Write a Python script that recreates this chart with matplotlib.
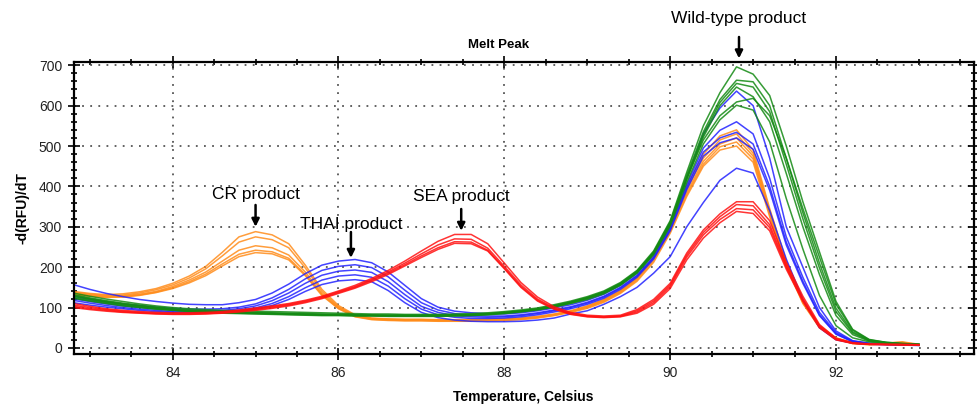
import matplotlib
matplotlib.use("Agg")
import matplotlib.pyplot as plt
from matplotlib.ticker import MultipleLocator

# temperatures (Celsius), one reading every 0.2 degrees
temps = [82.8, 83.0, 83.2, 83.4, 83.6, 83.8, 84.0, 84.2, 84.4, 84.6, 84.8, 85.0, 85.2,
         85.4, 85.6, 85.8, 86.0, 86.2, 86.4, 86.6, 86.8, 87.0, 87.2, 87.4, 87.6, 87.8,
         88.0, 88.2, 88.4, 88.6, 88.8, 89.0, 89.2, 89.4, 89.6, 89.8, 90.0, 90.2, 90.4,
         90.6, 90.8, 91.0, 91.2, 91.4, 91.6, 91.8, 92.0, 92.2, 92.4, 92.6, 92.8, 93.0]

# -d(RFU)/dT, CR samples (orange)
orange_runs = [
    [140, 135, 132, 134, 139, 147, 160, 178, 202, 237, 275, 288, 280,
     258, 205, 145, 105, 82, 74, 72, 71, 71, 70, 70, 70, 71,
     72, 74, 78, 84, 92, 104, 120, 142, 175, 225, 300, 400, 480,
     525, 540, 490, 345, 215, 118, 55, 25, 13, 10, 12, 14, 8],
    [138, 133, 130, 131, 136, 144, 156, 173, 196, 228, 262, 275, 268,
     248, 198, 140, 102, 80, 73, 71, 70, 70, 69, 69, 69, 70,
     71, 73, 77, 83, 91, 103, 119, 141, 173, 222, 295, 392, 470,
     515, 530, 482, 340, 212, 116, 54, 24, 12, 9, 11, 12, 7],
    [136, 131, 128, 129, 133, 140, 152, 168, 188, 215, 242, 253, 248,
     230, 188, 135, 100, 79, 72, 70, 69, 69, 68, 68, 68, 69,
     70, 72, 76, 82, 90, 101, 117, 139, 171, 220, 292, 385, 462,
     505, 520, 475, 335, 208, 114, 53, 23, 12, 9, 12, 15, 9],
    [134, 129, 126, 127, 131, 138, 149, 164, 183, 208, 232, 242, 238,
     222, 182, 132, 98, 78, 71, 69, 68, 68, 67, 67, 67, 68,
     69, 71, 75, 81, 89, 100, 115, 137, 168, 216, 288, 380, 455,
     498, 510, 468, 330, 205, 112, 52, 23, 11, 8, 10, 11, 6],
    [132, 128, 125, 126, 130, 137, 147, 161, 179, 203, 226, 236, 233,
     218, 179, 130, 97, 77, 70, 68, 67, 67, 66, 66, 66, 67,
     68, 70, 74, 80, 88, 98, 113, 135, 165, 212, 284, 375, 450,
     490, 500, 460, 325, 202, 110, 50, 22, 11, 8, 10, 13, 7],
]

# THAI samples (blue)
blue_runs = [
    [157, 145, 135, 127, 120, 115, 111, 108, 107, 107, 112, 120, 136,
     158, 184, 205, 215, 219, 211, 188, 155, 122, 101, 91, 87, 85,
     84, 87, 92, 99, 107, 118, 133, 155, 185, 232, 305, 420, 530,
     594, 636, 600, 470, 300, 200, 100, 42, 18, 12, 10, 9, 8],
    [128, 120, 114, 109, 105, 101, 98, 96, 96, 97, 101, 109, 124,
     145, 171, 192, 202, 206, 199, 176, 143, 112, 94, 85, 80, 79,
     79, 82, 87, 94, 102, 113, 128, 150, 180, 226, 298, 405, 495,
     539, 560, 530, 420, 275, 175, 88, 38, 17, 11, 9, 8, 7],
    [122, 115, 109, 104, 100, 97, 94, 92, 92, 93, 97, 104, 117,
     136, 160, 180, 190, 193, 187, 164, 132, 103, 88, 80, 77, 76,
     77, 80, 85, 92, 100, 111, 126, 148, 178, 223, 294, 398, 485,
     520, 534, 505, 400, 262, 165, 82, 35, 16, 10, 9, 8, 7],
    [118, 111, 105, 100, 96, 93, 90, 89, 89, 90, 93, 99, 110,
     127, 149, 168, 178, 181, 175, 153, 122, 96, 82, 76, 73, 73,
     74, 77, 82, 89, 97, 108, 123, 145, 175, 220, 290, 392, 475,
     508, 520, 492, 390, 255, 160, 80, 34, 15, 10, 9, 8, 7],
    [112, 106, 101, 97, 93, 90, 88, 87, 87, 88, 91, 96, 105,
     120, 140, 157, 166, 169, 164, 142, 112, 88, 75, 69, 66, 65,
     65, 66, 69, 74, 84, 92, 108, 127, 150, 185, 226, 300, 360,
     415, 445, 433, 340, 220, 120, 50, 20, 12, 9, 8, 7, 6],
]

# wild-type samples (green)
green_runs = [
    [136, 128, 121, 115, 109, 104, 100, 97, 95, 93, 92, 91, 90,
     89, 88, 87, 86, 85, 84, 84, 83, 83, 83, 84, 85, 87,
     90, 94, 99, 107, 116, 127, 141, 162, 192, 240, 315, 435, 550,
     632, 696, 678, 625, 500, 362, 238, 115, 46, 21, 14, 11, 9],
    [132, 124, 117, 111, 106, 101, 97, 94, 92, 90, 89, 88, 87,
     86, 85, 84, 83, 82, 82, 81, 81, 81, 81, 82, 83, 85,
     88, 92, 97, 105, 114, 125, 139, 160, 190, 237, 312, 428, 535,
     615, 663, 659, 600, 470, 335, 210, 98, 40, 19, 13, 10, 9],
    [128, 121, 114, 108, 103, 99, 95, 92, 90, 88, 87, 86, 85,
     84, 83, 82, 82, 81, 80, 80, 80, 80, 80, 81, 82, 84,
     87, 91, 96, 103, 112, 123, 137, 158, 188, 235, 308, 422, 528,
     608, 655, 646, 585, 455, 320, 198, 90, 37, 18, 13, 10, 8],
    [125, 118, 112, 106, 101, 97, 94, 91, 89, 87, 86, 85, 84,
     83, 82, 81, 81, 80, 80, 79, 79, 79, 79, 80, 81, 83,
     86, 90, 95, 102, 111, 122, 136, 157, 187, 233, 305, 418, 522,
     600, 646, 622, 560, 432, 300, 182, 80, 33, 17, 12, 10, 8],
    [130, 122, 115, 109, 104, 100, 96, 93, 91, 89, 88, 87, 86,
     85, 84, 83, 83, 82, 81, 81, 80, 80, 80, 81, 82, 84,
     87, 91, 96, 104, 113, 124, 138, 159, 189, 236, 310, 420, 515,
     575, 609, 618, 575, 470, 345, 225, 108, 44, 20, 14, 11, 9],
    [123, 116, 110, 104, 100, 96, 93, 90, 88, 86, 85, 84, 83,
     82, 81, 80, 80, 79, 79, 78, 78, 78, 78, 79, 80, 82,
     85, 89, 94, 101, 110, 120, 134, 155, 185, 231, 302, 410, 505,
     565, 601, 589, 510, 370, 245, 130, 55, 25, 15, 11, 9, 8],
]

# SEA samples (red)
red_runs = [
    [110, 103, 97, 93, 90, 88, 87, 87, 88, 90, 94, 99, 104,
     110, 118, 128, 141, 155, 172, 192, 215, 240, 264, 281, 281, 258,
     210, 162, 126, 102, 88, 81, 79, 81, 95, 120, 160, 235, 292,
     332, 362, 362, 315, 212, 128, 58, 24, 13, 10, 9, 9, 8],
    [106, 100, 95, 91, 88, 86, 85, 85, 86, 88, 92, 97, 102,
     108, 116, 126, 139, 152, 169, 188, 210, 233, 255, 270, 269, 247,
     202, 156, 121, 99, 86, 79, 77, 79, 92, 116, 156, 230, 286,
     325, 355, 352, 305, 205, 122, 55, 22, 12, 9, 9, 8, 8],
    [103, 97, 93, 89, 87, 85, 84, 84, 85, 87, 91, 95, 100,
     106, 114, 124, 137, 150, 167, 185, 206, 228, 248, 263, 262, 242,
     198, 152, 118, 97, 84, 78, 76, 78, 89, 112, 152, 225, 280,
     318, 345, 342, 298, 200, 118, 52, 21, 12, 9, 8, 8, 7],
    [100, 95, 91, 88, 86, 84, 83, 83, 84, 86, 89, 93, 98,
     104, 112, 122, 135, 148, 164, 182, 203, 224, 244, 259, 258, 240,
     196, 150, 116, 96, 83, 77, 75, 77, 86, 108, 147, 218, 272,
     310, 338, 333, 290, 195, 115, 50, 20, 11, 9, 8, 7, 7],
]

# peak labels: where the arrow points and where the text sits
ann_labels = ["CR product", "THAI product", "SEA product", "Wild-type product"]
ann_x = [85.0, 86.15, 87.48, 90.83]
ann_tip = [300, 223, 290, 717]
ann_tail = [354, 287, 344, 770]
ann_text_y = [381, 305, 374, 815]

plt.rcParams["font.family"] = ["Liberation Sans", "DejaVu Sans"]

fig = plt.figure(figsize=(9.77, 4.04), dpi=100)
ax = fig.add_axes([0.0757, 0.1238, 0.9209, 0.7227])

groups = [(orange_runs, "#ff8c1a"), (blue_runs, "#2222ff"),
          (green_runs, "#138a13"), (red_runs, "#ff1111")]
for runs, color in groups:
    for run in runs:
        ax.plot(temps, run, color=color, lw=1.1, alpha=0.85)

ax.set_xlim(82.81, 93.66)
ax.set_ylim(-15, 708)
ax.xaxis.set_major_locator(MultipleLocator(2))
ax.xaxis.set_minor_locator(MultipleLocator(0.5))
ax.yaxis.set_major_locator(MultipleLocator(100))
ax.yaxis.set_minor_locator(MultipleLocator(20))
ax.grid(which="major", color="#555555", linestyle=(0, (1, 3.5)), linewidth=1.3)
ax.set_axisbelow(True)

ax.tick_params(which="both", direction="inout", top=True, right=True,
               labelsize=10, labelcolor="#222222", width=1.2, pad=4.5)
ax.tick_params(which="major", length=8)
ax.tick_params(which="minor", length=5)
for spine in ax.spines.values():
    spine.set_linewidth(1.6)

ax.set_xlabel("Temperature, Celsius", fontsize=10, fontweight="bold")
ax.xaxis.set_label_coords(0.499, -0.123)
ax.set_ylabel("-d(RFU)/dT", fontsize=10, fontweight="bold")
ax.yaxis.set_label_coords(-0.049, 0.5)
fig.text(0.510, 0.889, "Melt Peak", fontsize=9.5, fontweight="bold",
         ha="center", va="center")

for label, x, tip, tail, ty in zip(ann_labels, ann_x, ann_tip, ann_tail, ann_text_y):
    ax.annotate("", xy=(x, tip), xytext=(x, tail), annotation_clip=False,
                arrowprops=dict(arrowstyle="-|>", color="black", lw=1.8,
                                mutation_scale=11, shrinkA=0, shrinkB=0))
    ax.text(x, ty, label, ha="center", va="center", fontsize=12.5, clip_on=False)

fig.savefig("out.png", dpi=100)
